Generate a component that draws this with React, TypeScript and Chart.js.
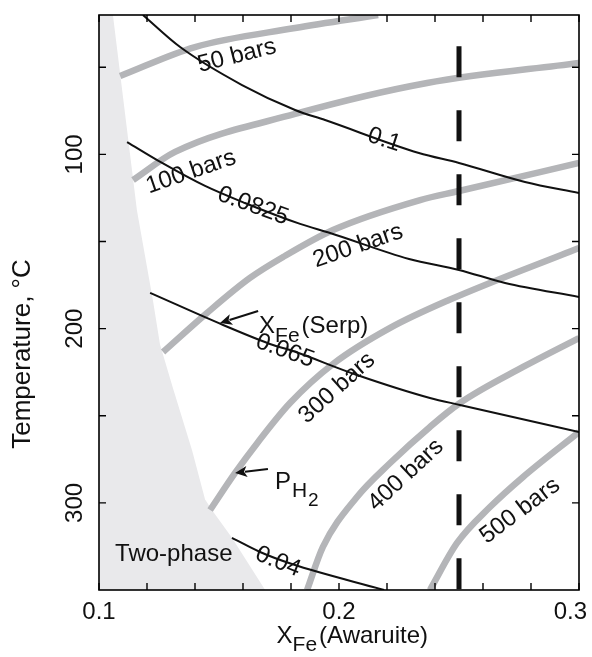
import React, { useEffect, useRef } from "react";
import { Chart, registerables } from "chart.js";

Chart.register(...registerables);

const FONT = '"Liberation Sans", Arial, Helvetica, sans-serif';
const MAIN = 24;
const SUB = 21;

// ---------- axes ----------
const xTickValues = [0.1, 0.12, 0.14, 0.16, 0.18, 0.2, 0.22, 0.24, 0.26, 0.28, 0.3];
const xTickLabels = ["0.1", "", "", "", "", "0.2", "", "", "", "", "0.3"];
const yTickValues = [50, 100, 150, 200, 250, 300];
const yTickLabels = ["", "100", "", "200", "", "300"];

// ---------- two-phase region (right boundary) ----------
const twoPhaseX = [0.1, 0.1058, 0.1158, 0.1225, 0.1254, 0.1308, 0.1388, 0.1442, 0.1475, 0.1554, 0.1692];
const twoPhaseT = [20, 20, 132, 184, 209, 234, 270, 298, 305, 320, 350];

// ---------- isobars of P_H2 (grey) ----------
const p50X = [0.1088, 0.14, 0.1817, 0.2163];
const p50T = [55, 38.4, 27.5, 20];
const p100X = [0.1142, 0.1317, 0.1817, 0.2367, 0.3];
const p100T = [114.7, 98.6, 76.8, 59, 47.5];
const p200X = [0.1267, 0.145, 0.1629, 0.1767, 0.1975, 0.2338, 0.25, 0.3];
const p200T = [213.4, 191.0, 170.9, 158.9, 143.4, 126.2, 121.0, 104.9];
const p300X = [0.1463, 0.1567, 0.1663, 0.1796, 0.1975, 0.2213, 0.2458, 0.3];
const p300T = [304.1, 282.8, 265.0, 242.7, 220.3, 199.6, 183.6, 153.7];
const p400X = [0.1867, 0.1933, 0.2075, 0.2213, 0.2379, 0.2504, 0.2767, 0.3];
const p400T = [350, 325.3, 296.6, 277.1, 256.4, 242.7, 222.0, 205.4];
const p500X = [0.2379, 0.2492, 0.2629, 0.2767, 0.3];
const p500T = [350, 323.0, 302.4, 285.1, 259.3];

// ---------- contours of X_Fe(Serp) (black) ----------
const s100X = [0.1183, 0.1338, 0.1596, 0.1817, 0.1942, 0.2333, 0.25, 0.2775, 0.3];
const s100T = [20, 38.4, 60.2, 74.5, 80.3, 99.2, 104.9, 115.8, 122.2];
const s0825X = [0.1117, 0.1263, 0.1442, 0.1608, 0.1838, 0.1963, 0.2292, 0.25, 0.2692, 0.3];
const s0825T = [92.9, 104.9, 118.1, 127.9, 139.9, 145.1, 160.0, 166.3, 173.8, 181.8];
const s065X = [0.1213, 0.1517, 0.1725, 0.1796, 0.2075, 0.2379, 0.2504, 0.3];
const s065T = [179.5, 197.9, 209.4, 212.3, 226.6, 239.8, 243.8, 259.3];
const s04X = [0.1554, 0.1671, 0.1804, 0.2188];
const s04T = [320.1, 328.2, 335.1, 350];

// ---------- dashed reference line ----------
const dashX = [0.25, 0.25];
const dashT = [38, 350];

// ---------- inline curve labels ----------
const curveLabelText = ["50 bars", "100 bars", "200 bars", "300 bars", "400 bars", "500 bars", "0.1", "0.0825", "0.065", "0.04"];
const curveLabelX = [0.1575, 0.1383, 0.2079, 0.1992, 0.2279, 0.2754, 0.2188, 0.1642, 0.1775, 0.1746];
const curveLabelT = [43.5, 110.1, 152.6, 234.1, 284.0, 304.6, 91.7, 129.6, 212.8, 333.9];
const curveLabelAngle = [-14, -19, -19, -42, -43, -37, 18, 20, 20, 22];

// ---------- annotations ----------
const serpTextAt = [0.1667, 193.9];
const serpArrowFrom = [0.1663, 189.9];
const serpArrowTo = [0.1504, 196.8];
const ph2TextAt = [0.1733, 282.8];
const ph2ArrowFrom = [0.1704, 280.5];
const ph2ArrowTo = [0.1567, 282.8];
const twoPhaseTextAt = [0.1067, 333.3];

const GREY = "#b4b5b8";
const BLACK = "#111111";

type Run = { t: string; size: number; dy: number; gap?: number };

function runsWidth(ctx: CanvasRenderingContext2D, runs: Run[]) {
  let w = 0;
  for (const r of runs) {
    ctx.font = `${r.size}px ${FONT}`;
    w += ctx.measureText(r.t).width + (r.gap || 0);
  }
  return w;
}

function drawRuns(ctx: CanvasRenderingContext2D, x: number, y: number, runs: Run[]) {
  let cx = x;
  ctx.textAlign = "left";
  ctx.textBaseline = "alphabetic";
  for (const r of runs) {
    ctx.font = `${r.size}px ${FONT}`;
    ctx.fillText(r.t, cx, y + r.dy);
    cx += ctx.measureText(r.t).width + (r.gap || 0);
  }
}

function drawArrow(ctx: CanvasRenderingContext2D, x0: number, y0: number, x1: number, y1: number) {
  const ang = Math.atan2(y1 - y0, x1 - x0);
  const headLen = 12;
  const headW = 5.5;
  const bx = x1 - headLen * Math.cos(ang);
  const by = y1 - headLen * Math.sin(ang);
  ctx.lineWidth = 2;
  ctx.beginPath();
  ctx.moveTo(x0, y0);
  ctx.lineTo(bx + 2 * Math.cos(ang), by + 2 * Math.sin(ang));
  ctx.stroke();
  ctx.beginPath();
  ctx.moveTo(x1, y1);
  ctx.lineTo(bx + headW * Math.sin(ang), by - headW * Math.cos(ang));
  ctx.lineTo(bx + 3 * Math.cos(ang), by + 3 * Math.sin(ang));
  ctx.lineTo(bx - headW * Math.sin(ang), by + headW * Math.cos(ang));
  ctx.closePath();
  ctx.fill();
}

const toPts = (xs: number[], ts: number[]) => xs.map((x, i) => ({ x, y: ts[i] }));

const decorPlugin = {
  id: "decor",
  afterDatasetsDraw(chart: any) {
    const ctx: CanvasRenderingContext2D = chart.ctx;
    const xs = chart.scales.x;
    const ys = chart.scales.y;
    const px = (v: number) => xs.getPixelForValue(v);
    const py = (v: number) => ys.getPixelForValue(v);
    ctx.save();
    ctx.fillStyle = BLACK;
    ctx.strokeStyle = BLACK;
    ctx.font = `${MAIN}px ${FONT}`;
    ctx.textAlign = "center";
    ctx.textBaseline = "middle";
    curveLabelText.forEach((t, i) => {
      ctx.save();
      ctx.translate(px(curveLabelX[i]), py(curveLabelT[i]));
      ctx.rotate((curveLabelAngle[i] * Math.PI) / 180);
      ctx.fillText(t, 0, 0);
      ctx.restore();
    });

    // X_Fe(Serp)
    drawRuns(ctx, px(serpTextAt[0]), py(serpTextAt[1]) + 15, [
      { t: "X", size: MAIN, dy: 0 },
      { t: "Fe", size: SUB, dy: 9, gap: 2 },
      { t: "(Serp)", size: MAIN, dy: 0 },
    ]);
    drawArrow(ctx, px(serpArrowFrom[0]), py(serpArrowFrom[1]), px(serpArrowTo[0]), py(serpArrowTo[1]));

    // P_H2
    drawRuns(ctx, px(ph2TextAt[0]), py(ph2TextAt[1]) + 16, [
      { t: "P", size: MAIN, dy: 0, gap: 1 },
      { t: "H", size: SUB, dy: 8, gap: 1 },
      { t: "2", size: 19, dy: 17 },
    ]);
    drawArrow(ctx, px(ph2ArrowFrom[0]), py(ph2ArrowFrom[1]), px(ph2ArrowTo[0]), py(ph2ArrowTo[1]));

    // Two-phase
    ctx.font = `${MAIN}px ${FONT}`;
    ctx.textAlign = "left";
    ctx.textBaseline = "alphabetic";
    ctx.fillText("Two-phase", px(twoPhaseTextAt[0]), py(twoPhaseTextAt[1]));
    ctx.restore();
  },
  afterDraw(chart: any) {
    const ctx: CanvasRenderingContext2D = chart.ctx;
    const { left, right, top, bottom } = chart.chartArea;
    const xs = chart.scales.x;
    const ys = chart.scales.y;
    ctx.save();
    ctx.strokeStyle = "#000";
    ctx.fillStyle = BLACK;
    // frame
    ctx.lineWidth = 1.6;
    ctx.strokeRect(left, top, right - left, bottom - top);
    // inward ticks
    const TL = 7;
    ctx.lineWidth = 1.4;
    ctx.beginPath();
    xTickValues.forEach((v) => {
      const x = xs.getPixelForValue(v);
      ctx.moveTo(x, bottom);
      ctx.lineTo(x, bottom - TL);
      ctx.moveTo(x, top);
      ctx.lineTo(x, top + TL);
    });
    yTickValues.forEach((v) => {
      const y = ys.getPixelForValue(v);
      ctx.moveTo(left, y);
      ctx.lineTo(left + TL, y);
      ctx.moveTo(right, y);
      ctx.lineTo(right - TL, y);
    });
    ctx.stroke();

    // tick labels
    ctx.font = `${MAIN}px ${FONT}`;
    ctx.textBaseline = "alphabetic";
    ctx.textAlign = "center";
    const W = chart.width;
    xTickValues.forEach((v, i) => {
      const lab = xTickLabels[i];
      if (!lab) return;
      const w = ctx.measureText(lab).width;
      let cx = xs.getPixelForValue(v);
      cx = Math.min(cx, W - 5 - w / 2);
      ctx.fillText(lab, cx, bottom + 29);
    });
    yTickValues.forEach((v, i) => {
      const lab = yTickLabels[i];
      if (!lab) return;
      ctx.save();
      ctx.translate(left - 17, ys.getPixelForValue(v));
      ctx.rotate(-Math.PI / 2);
      ctx.fillText(lab, 0, 0);
      ctx.restore();
    });

    // axis titles
    const xRuns: Run[] = [
      { t: "X", size: MAIN, dy: 0 },
      { t: "Fe", size: SUB, dy: 8, gap: 2 },
      { t: "(Awaruite)", size: MAIN, dy: 0 },
    ];
    const xw = runsWidth(ctx, xRuns);
    drawRuns(ctx, 428 - xw, bottom + 53, xRuns);

    ctx.save();
    ctx.font = `26px ${FONT}`;
    ctx.textAlign = "center";
    ctx.textBaseline = "alphabetic";
    ctx.translate(30, 354);
    ctx.rotate(-Math.PI / 2);
    ctx.fillText("Temperature, \u00B0C", 0, 0);
    ctx.restore();
    ctx.restore();
  },
};

export default function App() {
  const ref = useRef<HTMLCanvasElement | null>(null);

  useEffect(() => {
    document.body.style.margin = "0";
    const canvas = ref.current;
    if (!canvas) return;

    const line = (xs: number[], ts: number[], color: string, width: number) => ({
      data: toPts(xs, ts),
      showLine: true,
      borderColor: color,
      borderWidth: width,
      pointRadius: 0,
      fill: false,
      cubicInterpolationMode: "monotone" as const,
      borderCapStyle: "butt" as const,
      borderJoinStyle: "round" as const,
    });

    const chart = new Chart(canvas, {
      type: "scatter",
      data: {
        datasets: [
          {
            data: toPts(dashX, dashT),
            showLine: true,
            borderColor: BLACK,
            borderWidth: 5,
            borderDash: [31, 33],
            borderCapStyle: "butt",
            pointRadius: 0,
            fill: false,
            tension: 0,
          },
          line(s100X, s100T, BLACK, 2),
          line(s0825X, s0825T, BLACK, 2),
          line(s065X, s065T, BLACK, 2),
          line(s04X, s04T, BLACK, 2),
          line(p50X, p50T, GREY, 6.5),
          line(p100X, p100T, GREY, 6.5),
          line(p200X, p200T, GREY, 6.5),
          line(p300X, p300T, GREY, 6.5),
          line(p400X, p400T, GREY, 6.5),
          line(p500X, p500T, GREY, 6.5),
          {
            data: toPts(twoPhaseX, twoPhaseT),
            showLine: true,
            borderWidth: 0,
            borderColor: "rgba(0,0,0,0)",
            backgroundColor: "#e9e9eb",
            pointRadius: 0,
            tension: 0,
            fill: { value: 350 },
          },
        ] as any,
      },
      options: {
        responsive: false,
        animation: false,
        events: [],
        layout: { padding: { left: 99, top: 15, right: 13, bottom: 67 } },
        scales: {
          x: { type: "linear", min: 0.1, max: 0.3, display: false },
          y: { type: "linear", min: 20, max: 350, reverse: true, display: false },
        },
        plugins: {
          legend: { display: false },
          tooltip: { enabled: false },
          filler: { propagate: false },
        },
      } as any,
      plugins: [decorPlugin],
    });
    return () => chart.destroy();
  }, []);

  return (
    <div style={{ width: 592, height: 657, background: "#fff" }}>
      <canvas ref={ref} width={592} height={657} style={{ display: "block" }} />
    </div>
  );
}
